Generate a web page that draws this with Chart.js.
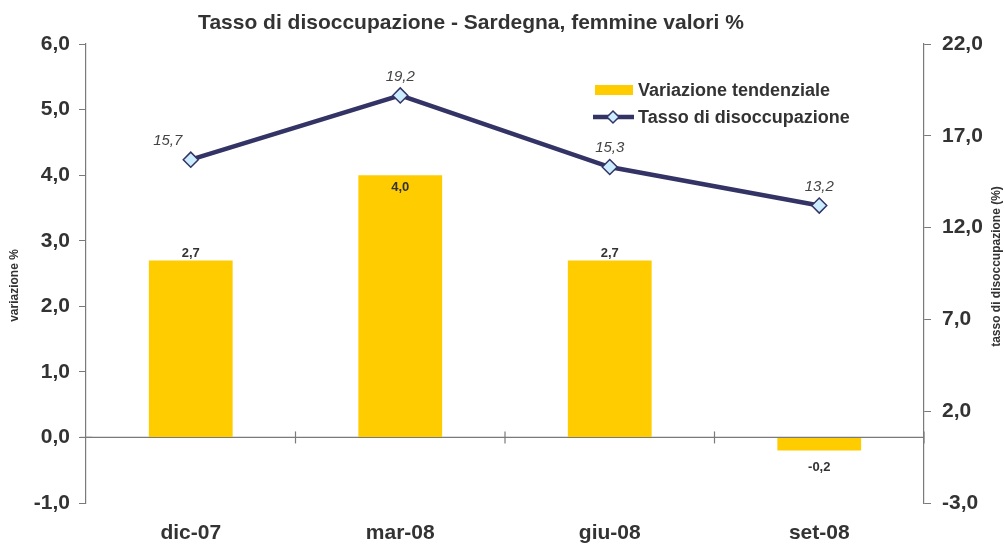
<!DOCTYPE html>
<html><head><meta charset="utf-8">
<script src="https://cdn.jsdelivr.net/npm/chart.js@4"></script>
<style>html,body{margin:0;padding:0;background:#fff}#w{width:1005px;height:547px;position:relative}</style>
</head><body><div id="w"><canvas id="c"></canvas></div>
<script>
const categories = ['dic-07', 'mar-08', 'giu-08', 'set-08'];
const variazione = [2.7, 4.0, 2.7, -0.2];
const tasso = [15.7, 19.2, 15.3, 13.2];
const leftRange = [-1, 6];
const rightRange = [-3, 22];
const titleText = 'Tasso di disoccupazione - Sardegna, femmine valori %';
const leftTitle = 'variazione %';
const rightTitle = 'tasso di disoccupazione (%)';
const seriesNames = ['Variazione tendenziale', 'Tasso di disoccupazione'];

const FONT = '"Liberation Sans", Arial, Helvetica, sans-serif';
const TXT = '#333333';
const AXIS = '#7a7a7a';
const BAR = '#FFCC00';
const LINE = '#333366';
const MARK = '#CCECFF';
const fmt = v => v.toFixed(1).replace('.', ',');

const decor = {
  id: 'decor',
  beforeDatasetsDraw(chart) {
    const {ctx, chartArea: a, scales: {x, y}} = chart;
    const y0 = y.getPixelForValue(0);
    ctx.save();
    ctx.strokeStyle = AXIS; ctx.lineWidth = 1.2;
    ctx.beginPath(); ctx.moveTo(a.left, y0); ctx.lineTo(a.right, y0); ctx.stroke();
    for (let i = 0; i < categories.length; i++) {
      const bx = i < categories.length - 1 ? (x.getPixelForTick(i) + x.getPixelForTick(i + 1)) / 2 : a.right;
      ctx.beginPath(); ctx.moveTo(bx, y0 - 6); ctx.lineTo(bx, y0 + 6); ctx.stroke();
    }
    ctx.beginPath(); ctx.moveTo(a.left - 6, y0); ctx.lineTo(a.left + 6, y0); ctx.stroke();
    ctx.restore();
  },
  afterDatasetsDraw(chart) {
    const {ctx} = chart;
    ctx.save();
    ctx.textAlign = 'center'; ctx.textBaseline = 'middle';
    // bar labels
    ctx.font = 'bold 13px ' + FONT; ctx.fillStyle = TXT;
    const maxV = Math.max(...variazione);
    chart.getDatasetMeta(0).data.forEach((el, i) => {
      const v = variazione[i];
      let ty;
      if (v < 0) ty = el.y + 17;
      else if (v === maxV) ty = el.y + 12;
      else ty = el.y - 7;
      ctx.fillText(fmt(v), el.x, ty);
    });
    // line labels
    ctx.font = 'italic 15px ' + FONT; ctx.fillStyle = '#444444';
    chart.getDatasetMeta(1).data.forEach((el, i) => {
      const dx = i === 0 ? -23 : 0;
      ctx.fillText(fmt(tasso[i]), el.x + dx, el.y - 19);
    });
    ctx.restore();
  },
  afterDraw(chart) {
    const {ctx, chartArea: a} = chart;
    const mid = (a.top + a.bottom) / 2;
    ctx.save();
    // title
    ctx.font = 'bold 21px ' + FONT; ctx.fillStyle = TXT;
    ctx.textAlign = 'center'; ctx.textBaseline = 'middle';
    ctx.fillText(titleText, 471, 23);
    ctx.restore();
    // left axis title
    ctx.save();
    ctx.font = 'bold 12px ' + FONT; ctx.fillStyle = TXT;
    ctx.textAlign = 'center'; ctx.textBaseline = 'middle';
    ctx.translate(15, mid + 12);
    ctx.rotate(-Math.PI / 2);
    ctx.fillText(leftTitle, 0, 0);
    ctx.restore();
    // right axis title (reads bottom to top)
    ctx.save();
    ctx.font = 'bold 12px ' + FONT; ctx.fillStyle = TXT;
    ctx.textAlign = 'center'; ctx.textBaseline = 'middle';
    ctx.translate(997, mid - 7);
    ctx.rotate(-Math.PI / 2);
    ctx.fillText(rightTitle, 0, 0);
    ctx.restore();
    // legend
    ctx.save();
    const lx = 595, ly1 = 90, ly2 = 117;
    ctx.fillStyle = BAR; ctx.fillRect(lx, ly1 - 5, 38, 10);
    ctx.strokeStyle = LINE; ctx.lineWidth = 4.5;
    ctx.beginPath(); ctx.moveTo(lx - 2, ly2); ctx.lineTo(lx + 39, ly2); ctx.stroke();
    ctx.fillStyle = MARK; ctx.lineWidth = 1.5;
    ctx.beginPath(); ctx.moveTo(lx + 18, ly2 - 6); ctx.lineTo(lx + 24, ly2); ctx.lineTo(lx + 18, ly2 + 6); ctx.lineTo(lx + 12, ly2); ctx.closePath();
    ctx.fill(); ctx.stroke();
    ctx.font = 'bold 18px ' + FONT; ctx.fillStyle = TXT;
    ctx.textAlign = 'left'; ctx.textBaseline = 'middle';
    ctx.fillText(seriesNames[0], lx + 43, ly1 + 1);
    ctx.fillText(seriesNames[1], lx + 43, ly2 + 1);
    ctx.restore();
  }
};

new Chart(document.getElementById('c'), {
  data: {
    labels: categories,
    datasets: [
      { type: 'bar', label: seriesNames[0], data: variazione, yAxisID: 'y', backgroundColor: BAR,
        barPercentage: 1, categoryPercentage: 0.4, order: 2 },
      { type: 'line', label: seriesNames[1], data: tasso, yAxisID: 'y1', borderColor: LINE, borderWidth: 4.5,
        pointStyle: 'rectRot', pointRadius: 7.5, pointHoverRadius: 7.5, pointBackgroundColor: MARK,
        pointBorderColor: LINE, pointBorderWidth: 1.5, tension: 0, order: 1 }
    ]
  },
  options: {
    responsive: true, maintainAspectRatio: false, animation: false,
    layout: { padding: { top: 44, left: 0, right: 0, bottom: 0 } },
    plugins: { legend: { display: false }, tooltip: { enabled: false }, title: { display: false } },
    scales: {
      x: {
        offset: true,
        grid: { display: false }, border: { display: false },
        ticks: { color: TXT, font: { family: FONT, size: 21, weight: 'bold' }, padding: 10 },
        afterFit: s => { s.height = 44; }
      },
      y: {
        position: 'left', min: leftRange[0], max: leftRange[1],
        ticks: { stepSize: 1, callback: v => fmt(v), color: TXT, font: { family: FONT, size: 21, weight: 'bold' }, padding: 9 },
        grid: { drawOnChartArea: false, tickLength: 7, color: AXIS },
        border: { color: AXIS, width: 1.2 },
        afterFit: s => { s.width = 86; }
      },
      y1: {
        position: 'right', min: rightRange[0], max: rightRange[1],
        ticks: { stepSize: 5, callback: v => fmt(v), color: TXT, font: { family: FONT, size: 21, weight: 'bold' }, padding: 11 },
        grid: { drawOnChartArea: false, tickLength: 7, color: AXIS },
        border: { color: AXIS, width: 1.2 },
        afterFit: s => { s.width = 81; }
      }
    }
  },
  plugins: [decor]
});
</script>
</body></html>
